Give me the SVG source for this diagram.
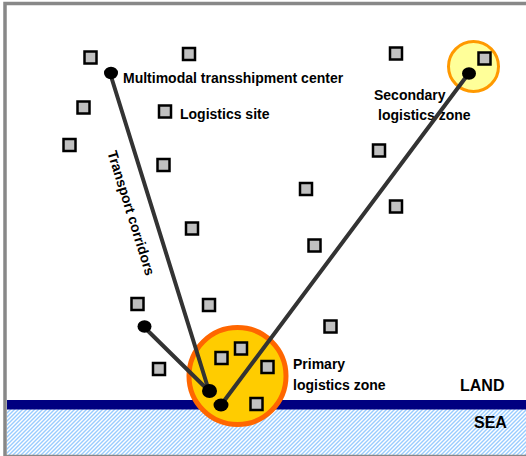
<svg xmlns="http://www.w3.org/2000/svg" width="526" height="456" viewBox="0 0 526 456">
<style>
.sq{fill:#C0C0C0;stroke:#000;stroke-width:2.5}
.dot{fill:#000}
.ln{stroke:#333;stroke-width:4;fill:none;stroke-linecap:round}
.t{font-family:"Liberation Sans",Arial,sans-serif;font-weight:bold;font-size:14px;fill:#000}
.big{font-size:16px}
</style>
<defs>
<pattern id="hatch" patternUnits="userSpaceOnUse" width="4" height="4">
<rect width="4" height="4" fill="#fff"/>
<path d="M-1,1 L1,-1 M0,4 L4,0 M3,5 L5,3" stroke="#99CCFF" stroke-width="1.4"/>
</pattern>
</defs>
<rect x="0" y="0" width="526" height="456" fill="#fff"/>
<g id="sea">
<rect x="7" y="409" width="519" height="46" fill="url(#hatch)"/>
<rect x="7" y="400" width="519" height="9.5" fill="#000080"/>
<text class="t big" x="460" y="391">LAND</text>
<text class="t big" x="474" y="427.5">SEA</text>
</g>
<rect x="5" y="3.5" width="530" height="453" fill="none" stroke="#888" stroke-width="3.5"/>
<g id="primary-zone">
<circle cx="237.5" cy="376" r="48.5" fill="#FFCC00" stroke="#FF6600" stroke-width="5"/>
<text class="t" x="293" y="368.5">Primary</text>
<text class="t" x="293" y="390">logistics zone</text>
</g>
<g id="secondary-zone">
<circle cx="473.5" cy="66.5" r="25" fill="#FFFF99" stroke="#FF9900" stroke-width="3"/>
<text class="t" x="374" y="100">Secondary</text>
<text class="t" x="378" y="120">logistics zone</text>
</g>
<g id="connectors">
<line class="ln" x1="110" y1="73" x2="209" y2="391"/>
<line class="ln" x1="144" y1="327" x2="209" y2="391"/>
<line class="ln" x1="469" y1="73" x2="221" y2="405"/>
<text class="t" transform="translate(126.6,214.5) rotate(72.7)" text-anchor="middle">Transport corridors</text>
</g>
<g id="logistics-sites">
<rect class="sq" x="84.5" y="51.5" width="12" height="12"/>
<rect class="sq" x="183" y="48" width="12" height="12"/>
<rect class="sq" x="77.5" y="101.5" width="12" height="12"/>
<rect class="sq" x="159" y="105.5" width="12" height="12"/>
<rect class="sq" x="63.5" y="139" width="12" height="12"/>
<rect class="sq" x="157.5" y="159" width="12" height="12"/>
<rect class="sq" x="186" y="222.5" width="12" height="12"/>
<rect class="sq" x="390" y="47.5" width="12" height="12"/>
<rect class="sq" x="478.5" y="52.5" width="12" height="12"/>
<rect class="sq" x="373" y="144.5" width="12" height="12"/>
<rect class="sq" x="300" y="183" width="12" height="12"/>
<rect class="sq" x="390" y="200.5" width="12" height="12"/>
<rect class="sq" x="131.5" y="298" width="12" height="12"/>
<rect class="sq" x="203" y="299" width="12" height="12"/>
<rect class="sq" x="153" y="363" width="12" height="12"/>
<rect class="sq" x="215.5" y="352" width="12" height="12"/>
<rect class="sq" x="235" y="342.5" width="12" height="12"/>
<rect class="sq" x="250.5" y="398" width="12" height="12"/>
<rect class="sq" x="308.5" y="239.5" width="12" height="12"/>
<rect class="sq" x="324.5" y="320.5" width="12" height="12"/>
<rect class="sq" x="261.5" y="361" width="12" height="12"/>
<text class="t" x="180" y="119">Logistics site</text>
</g>
<g id="multimodal-center">
<ellipse class="dot" cx="111" cy="73" rx="7" ry="6.2"/>
<text class="t" x="123" y="83">Multimodal transshipment center</text>
</g>
<g id="nodes">
<ellipse class="dot" cx="469" cy="73.5" rx="7" ry="6.2"/>
<ellipse class="dot" cx="144.5" cy="326.5" rx="7" ry="6.2"/>
<ellipse class="dot" cx="209.5" cy="391" rx="7.5" ry="7"/>
<ellipse class="dot" cx="221" cy="405" rx="7.5" ry="6.5"/>
</g>
</svg>
